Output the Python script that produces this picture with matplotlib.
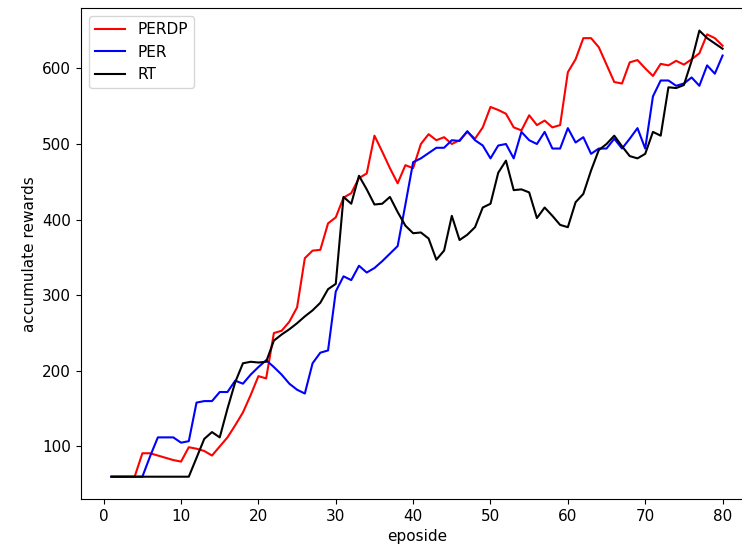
import matplotlib
matplotlib.use('Agg')
import matplotlib.pyplot as plt
import numpy as np

# episode index
episodes = np.arange(1, 81)

# accumulated rewards
perdp = [60, 60, 60, 60, 91, 91, 88, 85, 82, 80,
         99, 97, 94, 88, 100, 112, 128, 145, 168, 193,
         190, 250, 253, 265, 284, 349, 359, 360, 395, 403,
         429, 435, 455, 461, 511, 490, 468, 448, 472, 468,
         500, 513, 505, 509, 500, 505, 516, 507, 522, 549,
         545, 540, 522, 518, 538, 525, 531, 522, 525, 595,
         612, 640, 640, 628, 605, 582, 580, 608, 611, 600,
         590, 606, 604, 610, 605, 612, 620, 645, 640, 630]

per = [60, 60, 60, 60, 60, 87, 112, 112, 112, 105,
       107, 158, 160, 160, 172, 172, 187, 183, 195, 205,
       214, 205, 195, 183, 175, 170, 210, 224, 227, 305,
       325, 320, 339, 330, 336, 345, 355, 365, 420, 476,
       481, 488, 495, 495, 505, 504, 517, 505, 498, 481,
       498, 500, 481, 516, 505, 500, 516, 494, 494, 521,
       502, 509, 487, 494, 494, 507, 494, 507, 521, 494,
       563, 584, 584, 577, 580, 588, 577, 604, 593, 617]

rt = [60, 60, 60, 60, 60, 60, 60, 60, 60, 60,
      60, 85, 110, 119, 112, 150, 185, 210, 212, 211,
      212, 240, 248, 255, 263, 272, 280, 290, 308, 315,
      430, 421, 458, 440, 420, 421, 430, 410, 392, 382,
      383, 375, 347, 359, 405, 373, 380, 390, 416, 421,
      462, 478, 439, 440, 436, 402, 416, 405, 393, 390,
      423, 434, 465, 492, 500, 511, 497, 484, 481, 487,
      516, 511, 575, 574, 578, 610, 650, 640, 633, 626]

plt.rcParams['font.family'] = 'DejaVu Sans'
plt.rcParams['font.size'] = 11

fig = plt.figure(figsize=(7.42, 5.52), dpi=100)
ax = fig.add_axes([0.109, 0.096, 0.906, 0.889])

ax.plot(episodes, perdp, color='red', linewidth=1.5, label='PERDP')
ax.plot(episodes, per, color='blue', linewidth=1.5, label='PER')
ax.plot(episodes, rt, color='black', linewidth=1.5, label='RT')

ax.set_xticks(np.arange(0, 81, 10))
ax.set_yticks(np.arange(100, 601, 100))
ax.set_xlabel('eposide')
ax.set_ylabel('accumulate rewards')
ax.legend(loc='upper left')

fig.savefig('out.png', dpi=100)
